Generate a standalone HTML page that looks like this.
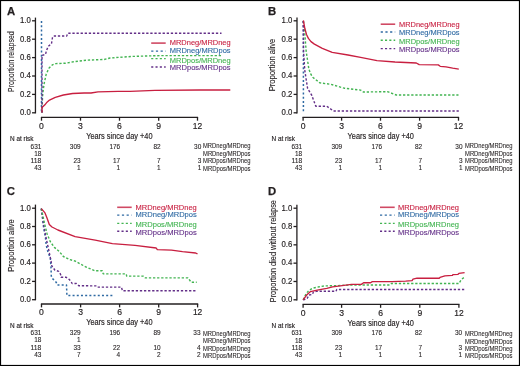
<!DOCTYPE html>
<html><head><meta charset="utf-8"><style>
html,body{margin:0;padding:0;background:#fff;width:520px;height:366px;overflow:hidden}
text{font-family:"Liberation Sans", sans-serif}
</style></head><body>
<div style="will-change:transform;width:520px;height:366px"><svg width="520" height="366" viewBox="0 0 520 366" style='display:block;font-family:"Liberation Sans", sans-serif'>
<rect x="0" y="0" width="520" height="366" fill="#fff"/>
<text x="6.90" y="14.60" font-size="11.3" fill="#231f20" font-weight="bold" stroke="#231f20" stroke-width="0.25" >A</text>
<line x1="35.45" y1="17.60" x2="35.45" y2="113.40" stroke="#231f20" stroke-width="1.3"/>
<line x1="32.05" y1="112.80" x2="35.45" y2="112.80" stroke="#231f20" stroke-width="1.3"/>
<text x="30.85" y="115.10" font-size="9.0" fill="#231f20" text-anchor="end" textLength="10.8" lengthAdjust="spacingAndGlyphs" stroke="#231f20" stroke-width="0.18" >0.0</text>
<line x1="32.05" y1="94.40" x2="35.45" y2="94.40" stroke="#231f20" stroke-width="1.3"/>
<text x="30.85" y="96.70" font-size="9.0" fill="#231f20" text-anchor="end" textLength="10.8" lengthAdjust="spacingAndGlyphs" stroke="#231f20" stroke-width="0.18" >0.2</text>
<line x1="32.05" y1="76.00" x2="35.45" y2="76.00" stroke="#231f20" stroke-width="1.3"/>
<text x="30.85" y="78.30" font-size="9.0" fill="#231f20" text-anchor="end" textLength="10.8" lengthAdjust="spacingAndGlyphs" stroke="#231f20" stroke-width="0.18" >0.4</text>
<line x1="32.05" y1="57.60" x2="35.45" y2="57.60" stroke="#231f20" stroke-width="1.3"/>
<text x="30.85" y="59.90" font-size="9.0" fill="#231f20" text-anchor="end" textLength="10.8" lengthAdjust="spacingAndGlyphs" stroke="#231f20" stroke-width="0.18" >0.6</text>
<line x1="32.05" y1="39.20" x2="35.45" y2="39.20" stroke="#231f20" stroke-width="1.3"/>
<text x="30.85" y="41.50" font-size="9.0" fill="#231f20" text-anchor="end" textLength="10.8" lengthAdjust="spacingAndGlyphs" stroke="#231f20" stroke-width="0.18" >0.8</text>
<line x1="32.05" y1="20.80" x2="35.45" y2="20.80" stroke="#231f20" stroke-width="1.3"/>
<text x="30.85" y="23.10" font-size="9.0" fill="#231f20" text-anchor="end" textLength="10.8" lengthAdjust="spacingAndGlyphs" stroke="#231f20" stroke-width="0.18" >1.0</text>
<line x1="40.90" y1="117.30" x2="198.10" y2="117.30" stroke="#231f20" stroke-width="1.3"/>
<line x1="41.50" y1="117.30" x2="41.50" y2="120.70" stroke="#231f20" stroke-width="1.3"/>
<text x="41.50" y="128.70" font-size="9.0" fill="#231f20" text-anchor="middle" textLength="4.8" lengthAdjust="spacingAndGlyphs" stroke="#231f20" stroke-width="0.18" >0</text>
<line x1="80.50" y1="117.30" x2="80.50" y2="120.70" stroke="#231f20" stroke-width="1.3"/>
<text x="80.50" y="128.70" font-size="9.0" fill="#231f20" text-anchor="middle" textLength="4.8" lengthAdjust="spacingAndGlyphs" stroke="#231f20" stroke-width="0.18" >3</text>
<line x1="119.50" y1="117.30" x2="119.50" y2="120.70" stroke="#231f20" stroke-width="1.3"/>
<text x="119.50" y="128.70" font-size="9.0" fill="#231f20" text-anchor="middle" textLength="4.8" lengthAdjust="spacingAndGlyphs" stroke="#231f20" stroke-width="0.18" >6</text>
<line x1="158.70" y1="117.30" x2="158.70" y2="120.70" stroke="#231f20" stroke-width="1.3"/>
<text x="158.70" y="128.70" font-size="9.0" fill="#231f20" text-anchor="middle" textLength="4.8" lengthAdjust="spacingAndGlyphs" stroke="#231f20" stroke-width="0.18" >9</text>
<line x1="197.50" y1="117.30" x2="197.50" y2="120.70" stroke="#231f20" stroke-width="1.3"/>
<text x="197.50" y="128.70" font-size="9.0" fill="#231f20" text-anchor="middle" textLength="9.4" lengthAdjust="spacingAndGlyphs" stroke="#231f20" stroke-width="0.18" >12</text>
<text x="86.20" y="138.60" font-size="9.1" fill="#231f20" textLength="66.3" lengthAdjust="spacingAndGlyphs" stroke="#231f20" stroke-width="0.18" >Years since day +40</text>
<text x="0" y="0" font-size="8.9" fill="#231f20" stroke="#231f20" stroke-width="0.12" textLength="60.50" lengthAdjust="spacingAndGlyphs" transform="translate(14.20,91.90) rotate(-90)">Proportion relapsed</text>
<text x="10.00" y="140.80" font-size="7.4" fill="#231f20" textLength="23.5" lengthAdjust="spacingAndGlyphs" stroke="#231f20" stroke-width="0.18" >N at risk</text>
<text x="41.40" y="148.50" font-size="6.6" fill="#231f20" text-anchor="end" textLength="10.8" lengthAdjust="spacingAndGlyphs" stroke="#231f20" stroke-width="0.1" >631</text>
<text x="80.60" y="148.50" font-size="6.6" fill="#231f20" text-anchor="end" textLength="10.8" lengthAdjust="spacingAndGlyphs" stroke="#231f20" stroke-width="0.1" >309</text>
<text x="120.20" y="148.50" font-size="6.6" fill="#231f20" text-anchor="end" textLength="10.8" lengthAdjust="spacingAndGlyphs" stroke="#231f20" stroke-width="0.1" >176</text>
<text x="160.60" y="148.50" font-size="6.6" fill="#231f20" text-anchor="end" textLength="7.2" lengthAdjust="spacingAndGlyphs" stroke="#231f20" stroke-width="0.1" >82</text>
<text x="201.30" y="148.50" font-size="6.6" fill="#231f20" text-anchor="end" textLength="7.2" lengthAdjust="spacingAndGlyphs" stroke="#231f20" stroke-width="0.1" >30</text>
<text x="203.00" y="148.20" font-size="6.5" fill="#231f20" textLength="47.5" lengthAdjust="spacingAndGlyphs" stroke="#231f20" stroke-width="0.08" >MRDneg/MRDneg</text>
<text x="41.40" y="155.70" font-size="6.6" fill="#231f20" text-anchor="end" textLength="7.2" lengthAdjust="spacingAndGlyphs" stroke="#231f20" stroke-width="0.1" >18</text>
<text x="203.00" y="155.60" font-size="6.5" fill="#231f20" textLength="47.5" lengthAdjust="spacingAndGlyphs" stroke="#231f20" stroke-width="0.08" >MRDneg/MRDpos</text>
<text x="41.40" y="163.10" font-size="6.6" fill="#231f20" text-anchor="end" textLength="10.8" lengthAdjust="spacingAndGlyphs" stroke="#231f20" stroke-width="0.1" >118</text>
<text x="80.60" y="163.10" font-size="6.6" fill="#231f20" text-anchor="end" textLength="7.2" lengthAdjust="spacingAndGlyphs" stroke="#231f20" stroke-width="0.1" >23</text>
<text x="120.20" y="163.10" font-size="6.6" fill="#231f20" text-anchor="end" textLength="7.2" lengthAdjust="spacingAndGlyphs" stroke="#231f20" stroke-width="0.1" >17</text>
<text x="160.60" y="163.10" font-size="6.6" fill="#231f20" text-anchor="end" textLength="3.6" lengthAdjust="spacingAndGlyphs" stroke="#231f20" stroke-width="0.1" >7</text>
<text x="201.30" y="163.10" font-size="6.6" fill="#231f20" text-anchor="end" textLength="3.6" lengthAdjust="spacingAndGlyphs" stroke="#231f20" stroke-width="0.1" >3</text>
<text x="203.00" y="163.10" font-size="6.5" fill="#231f20" textLength="47.5" lengthAdjust="spacingAndGlyphs" stroke="#231f20" stroke-width="0.08" >MRDpos/MRDneg</text>
<text x="41.40" y="170.30" font-size="6.6" fill="#231f20" text-anchor="end" textLength="7.2" lengthAdjust="spacingAndGlyphs" stroke="#231f20" stroke-width="0.1" >43</text>
<text x="80.60" y="170.30" font-size="6.6" fill="#231f20" text-anchor="end" textLength="3.6" lengthAdjust="spacingAndGlyphs" stroke="#231f20" stroke-width="0.1" >1</text>
<text x="120.20" y="170.30" font-size="6.6" fill="#231f20" text-anchor="end" textLength="3.6" lengthAdjust="spacingAndGlyphs" stroke="#231f20" stroke-width="0.1" >1</text>
<text x="160.60" y="170.30" font-size="6.6" fill="#231f20" text-anchor="end" textLength="3.6" lengthAdjust="spacingAndGlyphs" stroke="#231f20" stroke-width="0.1" >1</text>
<text x="201.30" y="170.30" font-size="6.6" fill="#231f20" text-anchor="end" textLength="3.6" lengthAdjust="spacingAndGlyphs" stroke="#231f20" stroke-width="0.1" >1</text>
<text x="203.00" y="170.60" font-size="6.5" fill="#231f20" textLength="47.5" lengthAdjust="spacingAndGlyphs" stroke="#231f20" stroke-width="0.08" >MRDpos/MRDpos</text>
<line x1="151.20" y1="43.10" x2="165.70" y2="43.10" stroke="#d04a64" stroke-width="1.6"/>
<text x="169.80" y="45.40" font-size="7.8" fill="#c81f40" textLength="60.8" lengthAdjust="spacingAndGlyphs" stroke="#c81f40" stroke-width="0.12" >MRDneg/MRDneg</text>
<line x1="151.20" y1="51.10" x2="165.70" y2="51.10" stroke="#2f6aa3" stroke-width="1.4" stroke-dasharray="2.2 2.5"/>
<text x="169.80" y="53.40" font-size="7.8" fill="#2f6aa3" textLength="60.8" lengthAdjust="spacingAndGlyphs" stroke="#2f6aa3" stroke-width="0.12" >MRDneg/MRDpos</text>
<line x1="151.20" y1="58.60" x2="165.70" y2="58.60" stroke="#42b451" stroke-width="1.4" stroke-dasharray="2.1 2.2"/>
<text x="169.80" y="62.70" font-size="7.8" fill="#42b451" textLength="60.8" lengthAdjust="spacingAndGlyphs" stroke="#42b451" stroke-width="0.12" >MRDpos/MRDneg</text>
<line x1="151.20" y1="67.00" x2="165.70" y2="67.00" stroke="#632f88" stroke-width="1.4" stroke-dasharray="2.1 2.2"/>
<text x="169.80" y="70.40" font-size="7.8" fill="#632f88" textLength="60.8" lengthAdjust="spacingAndGlyphs" stroke="#632f88" stroke-width="0.12" >MRDpos/MRDpos</text>
<polyline points="42.00,112.70 42.10,105.60 42.80,93.30 44.10,83.80 46.20,74.20 48.90,68.30 52.30,64.90 55.80,63.60 65.30,63.20 73.50,61.80 86.50,60.20 104.00,59.50 110.00,58.00 132.50,56.40 160.00,55.60 221.00,55.60" fill="none" stroke="#42b451" stroke-width="1.4" stroke-linejoin="round" stroke-dasharray="2.3 1.8"/>
<polyline points="41.50,21.10 41.50,113.00" fill="none" stroke="#2f6aa3" stroke-width="1.5" stroke-linejoin="round" stroke-dasharray="2.0 2.2"/>
<polyline points="42.00,112.70 42.00,55.40 45.50,54.50 46.50,50.50 48.20,46.50 51.50,43.50 52.50,37.50 53.50,36.00 66.70,36.00 67.70,33.30 221.50,33.30" fill="none" stroke="#632f88" stroke-width="1.4" stroke-linejoin="round" stroke-dasharray="2.3 1.8"/>
<polyline points="42.00,112.50 42.00,107.60 44.90,104.80 47.00,102.20 49.50,100.10 55.30,97.30 63.40,95.00 72.60,93.50 84.10,93.00 91.00,93.00 98.00,91.80 118.20,91.30 130.00,91.30 155.00,90.40 200.00,90.00 230.30,90.00" fill="none" stroke="#c81f40" stroke-width="1.35" stroke-linejoin="round"/>
<text x="268.10" y="15.00" font-size="11.3" fill="#231f20" font-weight="bold" stroke="#231f20" stroke-width="0.25" >B</text>
<line x1="297.00" y1="17.60" x2="297.00" y2="113.40" stroke="#231f20" stroke-width="1.3"/>
<line x1="293.60" y1="112.80" x2="297.00" y2="112.80" stroke="#231f20" stroke-width="1.3"/>
<text x="292.40" y="115.10" font-size="9.0" fill="#231f20" text-anchor="end" textLength="10.8" lengthAdjust="spacingAndGlyphs" stroke="#231f20" stroke-width="0.18" >0.0</text>
<line x1="293.60" y1="94.40" x2="297.00" y2="94.40" stroke="#231f20" stroke-width="1.3"/>
<text x="292.40" y="96.70" font-size="9.0" fill="#231f20" text-anchor="end" textLength="10.8" lengthAdjust="spacingAndGlyphs" stroke="#231f20" stroke-width="0.18" >0.2</text>
<line x1="293.60" y1="76.00" x2="297.00" y2="76.00" stroke="#231f20" stroke-width="1.3"/>
<text x="292.40" y="78.30" font-size="9.0" fill="#231f20" text-anchor="end" textLength="10.8" lengthAdjust="spacingAndGlyphs" stroke="#231f20" stroke-width="0.18" >0.4</text>
<line x1="293.60" y1="57.60" x2="297.00" y2="57.60" stroke="#231f20" stroke-width="1.3"/>
<text x="292.40" y="59.90" font-size="9.0" fill="#231f20" text-anchor="end" textLength="10.8" lengthAdjust="spacingAndGlyphs" stroke="#231f20" stroke-width="0.18" >0.6</text>
<line x1="293.60" y1="39.20" x2="297.00" y2="39.20" stroke="#231f20" stroke-width="1.3"/>
<text x="292.40" y="41.50" font-size="9.0" fill="#231f20" text-anchor="end" textLength="10.8" lengthAdjust="spacingAndGlyphs" stroke="#231f20" stroke-width="0.18" >0.8</text>
<line x1="293.60" y1="20.80" x2="297.00" y2="20.80" stroke="#231f20" stroke-width="1.3"/>
<text x="292.40" y="23.10" font-size="9.0" fill="#231f20" text-anchor="end" textLength="10.8" lengthAdjust="spacingAndGlyphs" stroke="#231f20" stroke-width="0.18" >1.0</text>
<line x1="302.50" y1="117.30" x2="459.10" y2="117.30" stroke="#231f20" stroke-width="1.3"/>
<line x1="303.10" y1="117.30" x2="303.10" y2="120.70" stroke="#231f20" stroke-width="1.3"/>
<text x="303.10" y="128.70" font-size="9.0" fill="#231f20" text-anchor="middle" textLength="4.8" lengthAdjust="spacingAndGlyphs" stroke="#231f20" stroke-width="0.18" >0</text>
<line x1="341.60" y1="117.30" x2="341.60" y2="120.70" stroke="#231f20" stroke-width="1.3"/>
<text x="341.60" y="128.70" font-size="9.0" fill="#231f20" text-anchor="middle" textLength="4.8" lengthAdjust="spacingAndGlyphs" stroke="#231f20" stroke-width="0.18" >3</text>
<line x1="380.50" y1="117.30" x2="380.50" y2="120.70" stroke="#231f20" stroke-width="1.3"/>
<text x="380.50" y="128.70" font-size="9.0" fill="#231f20" text-anchor="middle" textLength="4.8" lengthAdjust="spacingAndGlyphs" stroke="#231f20" stroke-width="0.18" >6</text>
<line x1="419.60" y1="117.30" x2="419.60" y2="120.70" stroke="#231f20" stroke-width="1.3"/>
<text x="419.60" y="128.70" font-size="9.0" fill="#231f20" text-anchor="middle" textLength="4.8" lengthAdjust="spacingAndGlyphs" stroke="#231f20" stroke-width="0.18" >9</text>
<line x1="458.50" y1="117.30" x2="458.50" y2="120.70" stroke="#231f20" stroke-width="1.3"/>
<text x="458.50" y="128.70" font-size="9.0" fill="#231f20" text-anchor="middle" textLength="9.4" lengthAdjust="spacingAndGlyphs" stroke="#231f20" stroke-width="0.18" >12</text>
<text x="347.60" y="138.60" font-size="9.1" fill="#231f20" textLength="66.3" lengthAdjust="spacingAndGlyphs" stroke="#231f20" stroke-width="0.18" >Years since day +40</text>
<text x="0" y="0" font-size="8.9" fill="#231f20" stroke="#231f20" stroke-width="0.12" textLength="52.40" lengthAdjust="spacingAndGlyphs" transform="translate(275.10,91.20) rotate(-90)">Proportion alive</text>
<text x="271.50" y="140.80" font-size="7.4" fill="#231f20" textLength="23.5" lengthAdjust="spacingAndGlyphs" stroke="#231f20" stroke-width="0.18" >N at risk</text>
<text x="302.20" y="148.50" font-size="6.6" fill="#231f20" text-anchor="end" textLength="10.8" lengthAdjust="spacingAndGlyphs" stroke="#231f20" stroke-width="0.1" >631</text>
<text x="342.20" y="148.50" font-size="6.6" fill="#231f20" text-anchor="end" textLength="10.8" lengthAdjust="spacingAndGlyphs" stroke="#231f20" stroke-width="0.1" >309</text>
<text x="382.20" y="148.50" font-size="6.6" fill="#231f20" text-anchor="end" textLength="10.8" lengthAdjust="spacingAndGlyphs" stroke="#231f20" stroke-width="0.1" >176</text>
<text x="422.20" y="148.50" font-size="6.6" fill="#231f20" text-anchor="end" textLength="7.2" lengthAdjust="spacingAndGlyphs" stroke="#231f20" stroke-width="0.1" >82</text>
<text x="462.50" y="148.50" font-size="6.6" fill="#231f20" text-anchor="end" textLength="7.2" lengthAdjust="spacingAndGlyphs" stroke="#231f20" stroke-width="0.1" >30</text>
<text x="465.00" y="148.20" font-size="6.5" fill="#231f20" textLength="47.5" lengthAdjust="spacingAndGlyphs" stroke="#231f20" stroke-width="0.08" >MRDneg/MRDneg</text>
<text x="302.20" y="155.70" font-size="6.6" fill="#231f20" text-anchor="end" textLength="7.2" lengthAdjust="spacingAndGlyphs" stroke="#231f20" stroke-width="0.1" >18</text>
<text x="465.00" y="155.60" font-size="6.5" fill="#231f20" textLength="47.5" lengthAdjust="spacingAndGlyphs" stroke="#231f20" stroke-width="0.08" >MRDneg/MRDpos</text>
<text x="302.20" y="163.10" font-size="6.6" fill="#231f20" text-anchor="end" textLength="10.8" lengthAdjust="spacingAndGlyphs" stroke="#231f20" stroke-width="0.1" >118</text>
<text x="342.20" y="163.10" font-size="6.6" fill="#231f20" text-anchor="end" textLength="7.2" lengthAdjust="spacingAndGlyphs" stroke="#231f20" stroke-width="0.1" >23</text>
<text x="382.20" y="163.10" font-size="6.6" fill="#231f20" text-anchor="end" textLength="7.2" lengthAdjust="spacingAndGlyphs" stroke="#231f20" stroke-width="0.1" >17</text>
<text x="422.20" y="163.10" font-size="6.6" fill="#231f20" text-anchor="end" textLength="3.6" lengthAdjust="spacingAndGlyphs" stroke="#231f20" stroke-width="0.1" >7</text>
<text x="462.50" y="163.10" font-size="6.6" fill="#231f20" text-anchor="end" textLength="3.6" lengthAdjust="spacingAndGlyphs" stroke="#231f20" stroke-width="0.1" >3</text>
<text x="465.00" y="163.10" font-size="6.5" fill="#231f20" textLength="47.5" lengthAdjust="spacingAndGlyphs" stroke="#231f20" stroke-width="0.08" >MRDpos/MRDneg</text>
<text x="302.20" y="170.30" font-size="6.6" fill="#231f20" text-anchor="end" textLength="7.2" lengthAdjust="spacingAndGlyphs" stroke="#231f20" stroke-width="0.1" >43</text>
<text x="342.20" y="170.30" font-size="6.6" fill="#231f20" text-anchor="end" textLength="3.6" lengthAdjust="spacingAndGlyphs" stroke="#231f20" stroke-width="0.1" >1</text>
<text x="382.20" y="170.30" font-size="6.6" fill="#231f20" text-anchor="end" textLength="3.6" lengthAdjust="spacingAndGlyphs" stroke="#231f20" stroke-width="0.1" >1</text>
<text x="422.20" y="170.30" font-size="6.6" fill="#231f20" text-anchor="end" textLength="3.6" lengthAdjust="spacingAndGlyphs" stroke="#231f20" stroke-width="0.1" >1</text>
<text x="462.50" y="170.30" font-size="6.6" fill="#231f20" text-anchor="end" textLength="3.6" lengthAdjust="spacingAndGlyphs" stroke="#231f20" stroke-width="0.1" >1</text>
<text x="465.00" y="170.60" font-size="6.5" fill="#231f20" textLength="47.5" lengthAdjust="spacingAndGlyphs" stroke="#231f20" stroke-width="0.08" >MRDpos/MRDpos</text>
<line x1="380.70" y1="24.20" x2="395.20" y2="24.20" stroke="#d04a64" stroke-width="1.6"/>
<text x="399.10" y="26.60" font-size="7.8" fill="#c81f40" textLength="60.5" lengthAdjust="spacingAndGlyphs" stroke="#c81f40" stroke-width="0.12" >MRDneg/MRDneg</text>
<line x1="380.70" y1="32.00" x2="395.20" y2="32.00" stroke="#2f6aa3" stroke-width="1.4" stroke-dasharray="2.2 2.5"/>
<text x="399.10" y="34.80" font-size="7.8" fill="#2f6aa3" textLength="60.5" lengthAdjust="spacingAndGlyphs" stroke="#2f6aa3" stroke-width="0.12" >MRDneg/MRDpos</text>
<line x1="380.70" y1="40.30" x2="395.20" y2="40.30" stroke="#42b451" stroke-width="1.4" stroke-dasharray="2.1 2.2"/>
<text x="399.10" y="44.00" font-size="7.8" fill="#42b451" textLength="60.5" lengthAdjust="spacingAndGlyphs" stroke="#42b451" stroke-width="0.12" >MRDpos/MRDneg</text>
<line x1="380.70" y1="48.60" x2="395.20" y2="48.60" stroke="#632f88" stroke-width="1.4" stroke-dasharray="2.1 2.2"/>
<text x="399.10" y="52.00" font-size="7.8" fill="#632f88" textLength="60.5" lengthAdjust="spacingAndGlyphs" stroke="#632f88" stroke-width="0.12" >MRDpos/MRDpos</text>
<polyline points="303.40,21.10 303.40,113.00" fill="none" stroke="#2f6aa3" stroke-width="1.5" stroke-linejoin="round" stroke-dasharray="2.0 2.2"/>
<polyline points="303.30,21.00 304.50,30.00 306.20,51.50 308.90,69.30 311.00,74.50 313.00,77.50 319.90,82.90 330.80,84.30 344.20,88.20 360.60,90.10 363.30,92.00 387.60,91.70 396.30,95.00 458.50,95.00" fill="none" stroke="#42b451" stroke-width="1.4" stroke-linejoin="round" stroke-dasharray="2.3 1.8"/>
<polyline points="303.20,21.00 303.50,51.50 304.80,70.60 307.60,88.40 311.70,95.20 315.80,106.20 326.70,106.20 333.50,111.00 458.80,111.00" fill="none" stroke="#632f88" stroke-width="1.4" stroke-linejoin="round" stroke-dasharray="2.3 1.8"/>
<polyline points="303.40,20.30 304.80,28.30 306.50,34.50 308.40,38.40 311.00,41.60 314.40,44.10 322.30,48.30 332.20,52.30 348.00,55.00 360.60,57.30 377.00,60.60 395.00,62.00 416.30,63.00 419.20,64.70 438.30,64.90 440.20,66.30 446.00,66.80 452.70,68.20 458.80,69.10" fill="none" stroke="#c81f40" stroke-width="1.35" stroke-linejoin="round"/>
<text x="6.80" y="195.40" font-size="11.3" fill="#231f20" font-weight="bold" stroke="#231f20" stroke-width="0.25" >C</text>
<line x1="35.45" y1="204.60" x2="35.45" y2="300.30" stroke="#231f20" stroke-width="1.3"/>
<line x1="32.05" y1="299.70" x2="35.45" y2="299.70" stroke="#231f20" stroke-width="1.3"/>
<text x="30.85" y="302.00" font-size="9.0" fill="#231f20" text-anchor="end" textLength="10.8" lengthAdjust="spacingAndGlyphs" stroke="#231f20" stroke-width="0.18" >0.0</text>
<line x1="32.05" y1="281.40" x2="35.45" y2="281.40" stroke="#231f20" stroke-width="1.3"/>
<text x="30.85" y="283.70" font-size="9.0" fill="#231f20" text-anchor="end" textLength="10.8" lengthAdjust="spacingAndGlyphs" stroke="#231f20" stroke-width="0.18" >0.2</text>
<line x1="32.05" y1="263.10" x2="35.45" y2="263.10" stroke="#231f20" stroke-width="1.3"/>
<text x="30.85" y="265.40" font-size="9.0" fill="#231f20" text-anchor="end" textLength="10.8" lengthAdjust="spacingAndGlyphs" stroke="#231f20" stroke-width="0.18" >0.4</text>
<line x1="32.05" y1="244.80" x2="35.45" y2="244.80" stroke="#231f20" stroke-width="1.3"/>
<text x="30.85" y="247.10" font-size="9.0" fill="#231f20" text-anchor="end" textLength="10.8" lengthAdjust="spacingAndGlyphs" stroke="#231f20" stroke-width="0.18" >0.6</text>
<line x1="32.05" y1="226.50" x2="35.45" y2="226.50" stroke="#231f20" stroke-width="1.3"/>
<text x="30.85" y="228.80" font-size="9.0" fill="#231f20" text-anchor="end" textLength="10.8" lengthAdjust="spacingAndGlyphs" stroke="#231f20" stroke-width="0.18" >0.8</text>
<line x1="32.05" y1="208.20" x2="35.45" y2="208.20" stroke="#231f20" stroke-width="1.3"/>
<text x="30.85" y="210.50" font-size="9.0" fill="#231f20" text-anchor="end" textLength="10.8" lengthAdjust="spacingAndGlyphs" stroke="#231f20" stroke-width="0.18" >1.0</text>
<line x1="40.90" y1="304.00" x2="198.20" y2="304.00" stroke="#231f20" stroke-width="1.3"/>
<line x1="41.50" y1="304.00" x2="41.50" y2="307.40" stroke="#231f20" stroke-width="1.3"/>
<text x="41.50" y="315.40" font-size="9.0" fill="#231f20" text-anchor="middle" textLength="4.8" lengthAdjust="spacingAndGlyphs" stroke="#231f20" stroke-width="0.18" >0</text>
<line x1="80.60" y1="304.00" x2="80.60" y2="307.40" stroke="#231f20" stroke-width="1.3"/>
<text x="80.60" y="315.40" font-size="9.0" fill="#231f20" text-anchor="middle" textLength="4.8" lengthAdjust="spacingAndGlyphs" stroke="#231f20" stroke-width="0.18" >3</text>
<line x1="119.60" y1="304.00" x2="119.60" y2="307.40" stroke="#231f20" stroke-width="1.3"/>
<text x="119.60" y="315.40" font-size="9.0" fill="#231f20" text-anchor="middle" textLength="4.8" lengthAdjust="spacingAndGlyphs" stroke="#231f20" stroke-width="0.18" >6</text>
<line x1="158.70" y1="304.00" x2="158.70" y2="307.40" stroke="#231f20" stroke-width="1.3"/>
<text x="158.70" y="315.40" font-size="9.0" fill="#231f20" text-anchor="middle" textLength="4.8" lengthAdjust="spacingAndGlyphs" stroke="#231f20" stroke-width="0.18" >9</text>
<line x1="197.60" y1="304.00" x2="197.60" y2="307.40" stroke="#231f20" stroke-width="1.3"/>
<text x="197.60" y="315.40" font-size="9.0" fill="#231f20" text-anchor="middle" textLength="9.4" lengthAdjust="spacingAndGlyphs" stroke="#231f20" stroke-width="0.18" >12</text>
<text x="86.20" y="325.40" font-size="9.1" fill="#231f20" textLength="66.3" lengthAdjust="spacingAndGlyphs" stroke="#231f20" stroke-width="0.18" >Years since day +40</text>
<text x="0" y="0" font-size="8.9" fill="#231f20" stroke="#231f20" stroke-width="0.12" textLength="52.30" lengthAdjust="spacingAndGlyphs" transform="translate(13.90,271.70) rotate(-90)">Proportion alive</text>
<text x="10.00" y="327.90" font-size="7.4" fill="#231f20" textLength="23.5" lengthAdjust="spacingAndGlyphs" stroke="#231f20" stroke-width="0.18" >N at risk</text>
<text x="41.40" y="334.80" font-size="6.6" fill="#231f20" text-anchor="end" textLength="10.8" lengthAdjust="spacingAndGlyphs" stroke="#231f20" stroke-width="0.1" >631</text>
<text x="80.60" y="334.80" font-size="6.6" fill="#231f20" text-anchor="end" textLength="10.8" lengthAdjust="spacingAndGlyphs" stroke="#231f20" stroke-width="0.1" >329</text>
<text x="120.20" y="334.80" font-size="6.6" fill="#231f20" text-anchor="end" textLength="10.8" lengthAdjust="spacingAndGlyphs" stroke="#231f20" stroke-width="0.1" >196</text>
<text x="160.60" y="334.80" font-size="6.6" fill="#231f20" text-anchor="end" textLength="7.2" lengthAdjust="spacingAndGlyphs" stroke="#231f20" stroke-width="0.1" >89</text>
<text x="200.50" y="334.80" font-size="6.6" fill="#231f20" text-anchor="end" textLength="7.2" lengthAdjust="spacingAndGlyphs" stroke="#231f20" stroke-width="0.1" >33</text>
<text x="203.00" y="335.70" font-size="6.5" fill="#231f20" textLength="47.5" lengthAdjust="spacingAndGlyphs" stroke="#231f20" stroke-width="0.08" >MRDneg/MRDneg</text>
<text x="41.40" y="342.30" font-size="6.6" fill="#231f20" text-anchor="end" textLength="7.2" lengthAdjust="spacingAndGlyphs" stroke="#231f20" stroke-width="0.1" >18</text>
<text x="80.60" y="342.30" font-size="6.6" fill="#231f20" text-anchor="end" textLength="3.6" lengthAdjust="spacingAndGlyphs" stroke="#231f20" stroke-width="0.1" >1</text>
<text x="203.00" y="343.20" font-size="6.5" fill="#231f20" textLength="47.5" lengthAdjust="spacingAndGlyphs" stroke="#231f20" stroke-width="0.08" >MRDneg/MRDpos</text>
<text x="41.40" y="349.60" font-size="6.6" fill="#231f20" text-anchor="end" textLength="10.8" lengthAdjust="spacingAndGlyphs" stroke="#231f20" stroke-width="0.1" >118</text>
<text x="80.60" y="349.60" font-size="6.6" fill="#231f20" text-anchor="end" textLength="7.2" lengthAdjust="spacingAndGlyphs" stroke="#231f20" stroke-width="0.1" >33</text>
<text x="120.20" y="349.60" font-size="6.6" fill="#231f20" text-anchor="end" textLength="7.2" lengthAdjust="spacingAndGlyphs" stroke="#231f20" stroke-width="0.1" >22</text>
<text x="160.60" y="349.60" font-size="6.6" fill="#231f20" text-anchor="end" textLength="7.2" lengthAdjust="spacingAndGlyphs" stroke="#231f20" stroke-width="0.1" >10</text>
<text x="200.50" y="349.60" font-size="6.6" fill="#231f20" text-anchor="end" textLength="3.6" lengthAdjust="spacingAndGlyphs" stroke="#231f20" stroke-width="0.1" >4</text>
<text x="203.00" y="351.10" font-size="6.5" fill="#231f20" textLength="47.5" lengthAdjust="spacingAndGlyphs" stroke="#231f20" stroke-width="0.08" >MRDpos/MRDneg</text>
<text x="41.40" y="356.70" font-size="6.6" fill="#231f20" text-anchor="end" textLength="7.2" lengthAdjust="spacingAndGlyphs" stroke="#231f20" stroke-width="0.1" >43</text>
<text x="80.60" y="356.70" font-size="6.6" fill="#231f20" text-anchor="end" textLength="3.6" lengthAdjust="spacingAndGlyphs" stroke="#231f20" stroke-width="0.1" >7</text>
<text x="120.20" y="356.70" font-size="6.6" fill="#231f20" text-anchor="end" textLength="3.6" lengthAdjust="spacingAndGlyphs" stroke="#231f20" stroke-width="0.1" >4</text>
<text x="160.60" y="356.70" font-size="6.6" fill="#231f20" text-anchor="end" textLength="3.6" lengthAdjust="spacingAndGlyphs" stroke="#231f20" stroke-width="0.1" >2</text>
<text x="200.50" y="356.70" font-size="6.6" fill="#231f20" text-anchor="end" textLength="3.6" lengthAdjust="spacingAndGlyphs" stroke="#231f20" stroke-width="0.1" >2</text>
<text x="203.00" y="358.20" font-size="6.5" fill="#231f20" textLength="47.5" lengthAdjust="spacingAndGlyphs" stroke="#231f20" stroke-width="0.08" >MRDpos/MRDpos</text>
<line x1="117.20" y1="207.30" x2="131.70" y2="207.30" stroke="#d04a64" stroke-width="1.6"/>
<text x="135.50" y="209.70" font-size="7.8" fill="#c81f40" textLength="61.3" lengthAdjust="spacingAndGlyphs" stroke="#c81f40" stroke-width="0.12" >MRDneg/MRDneg</text>
<line x1="117.20" y1="215.10" x2="131.70" y2="215.10" stroke="#2f6aa3" stroke-width="1.4" stroke-dasharray="2.2 2.5"/>
<text x="135.50" y="217.40" font-size="7.8" fill="#2f6aa3" textLength="61.3" lengthAdjust="spacingAndGlyphs" stroke="#2f6aa3" stroke-width="0.12" >MRDneg/MRDpos</text>
<line x1="117.20" y1="223.40" x2="131.70" y2="223.40" stroke="#42b451" stroke-width="1.4" stroke-dasharray="2.1 2.2"/>
<text x="135.50" y="226.70" font-size="7.8" fill="#42b451" textLength="61.3" lengthAdjust="spacingAndGlyphs" stroke="#42b451" stroke-width="0.12" >MRDpos/MRDneg</text>
<line x1="117.20" y1="231.20" x2="131.70" y2="231.20" stroke="#632f88" stroke-width="1.4" stroke-dasharray="2.1 2.2"/>
<text x="135.50" y="234.50" font-size="7.8" fill="#632f88" textLength="61.3" lengthAdjust="spacingAndGlyphs" stroke="#632f88" stroke-width="0.12" >MRDpos/MRDpos</text>
<polyline points="41.30,208.60 42.10,213.80 43.70,228.60 45.40,236.80 46.20,245.00 47.80,251.50 50.30,258.10 51.00,267.00 51.30,276.00 52.20,278.50 54.30,280.10 56.30,282.50 57.20,285.00 66.50,285.00 66.90,295.50 112.40,295.50" fill="none" stroke="#2f6aa3" stroke-width="1.5" stroke-linejoin="round" stroke-dasharray="2.0 2.2"/>
<polyline points="41.30,208.60 42.90,220.40 44.60,230.20 46.20,238.40 48.70,249.90 51.10,261.40 51.70,265.70 54.80,270.00 58.70,271.40 60.60,274.30 61.00,277.20 65.90,277.20 68.75,279.10 70.70,281.00 72.10,283.50 76.40,283.50 78.80,285.70 96.50,285.90 97.50,287.10 121.50,287.10 122.40,290.80 196.70,290.80" fill="none" stroke="#632f88" stroke-width="1.4" stroke-linejoin="round" stroke-dasharray="2.3 1.8"/>
<polyline points="41.30,208.60 42.10,212.20 44.60,223.70 47.00,233.50 50.30,241.70 54.40,247.40 59.30,251.50 63.40,256.50 70.00,259.70 75.40,261.20 85.90,267.00 95.00,270.80 102.20,270.80 103.20,273.90 126.20,273.90 126.70,276.10 143.10,276.10 145.30,277.90 188.00,277.90 191.20,282.30 196.70,282.30" fill="none" stroke="#42b451" stroke-width="1.4" stroke-linejoin="round" stroke-dasharray="2.3 1.8"/>
<polyline points="41.30,208.60 45.00,212.90 47.00,218.00 49.30,224.40 52.00,227.00 57.90,230.00 75.10,236.70 95.20,240.10 112.40,243.60 135.00,245.30 156.20,248.00 157.30,249.70 171.50,250.10 182.50,251.70 195.60,253.00 197.50,253.90" fill="none" stroke="#c81f40" stroke-width="1.35" stroke-linejoin="round"/>
<text x="268.10" y="195.10" font-size="11.3" fill="#231f20" font-weight="bold" stroke="#231f20" stroke-width="0.25" >D</text>
<line x1="296.90" y1="204.80" x2="296.90" y2="300.40" stroke="#231f20" stroke-width="1.3"/>
<line x1="293.50" y1="299.80" x2="296.90" y2="299.80" stroke="#231f20" stroke-width="1.3"/>
<text x="292.30" y="302.10" font-size="9.0" fill="#231f20" text-anchor="end" textLength="10.8" lengthAdjust="spacingAndGlyphs" stroke="#231f20" stroke-width="0.18" >0.0</text>
<line x1="293.50" y1="281.48" x2="296.90" y2="281.48" stroke="#231f20" stroke-width="1.3"/>
<text x="292.30" y="283.78" font-size="9.0" fill="#231f20" text-anchor="end" textLength="10.8" lengthAdjust="spacingAndGlyphs" stroke="#231f20" stroke-width="0.18" >0.2</text>
<line x1="293.50" y1="263.16" x2="296.90" y2="263.16" stroke="#231f20" stroke-width="1.3"/>
<text x="292.30" y="265.46" font-size="9.0" fill="#231f20" text-anchor="end" textLength="10.8" lengthAdjust="spacingAndGlyphs" stroke="#231f20" stroke-width="0.18" >0.4</text>
<line x1="293.50" y1="244.84" x2="296.90" y2="244.84" stroke="#231f20" stroke-width="1.3"/>
<text x="292.30" y="247.14" font-size="9.0" fill="#231f20" text-anchor="end" textLength="10.8" lengthAdjust="spacingAndGlyphs" stroke="#231f20" stroke-width="0.18" >0.6</text>
<line x1="293.50" y1="226.52" x2="296.90" y2="226.52" stroke="#231f20" stroke-width="1.3"/>
<text x="292.30" y="228.82" font-size="9.0" fill="#231f20" text-anchor="end" textLength="10.8" lengthAdjust="spacingAndGlyphs" stroke="#231f20" stroke-width="0.18" >0.8</text>
<line x1="293.50" y1="208.20" x2="296.90" y2="208.20" stroke="#231f20" stroke-width="1.3"/>
<text x="292.30" y="210.50" font-size="9.0" fill="#231f20" text-anchor="end" textLength="10.8" lengthAdjust="spacingAndGlyphs" stroke="#231f20" stroke-width="0.18" >1.0</text>
<line x1="302.50" y1="304.40" x2="459.50" y2="304.40" stroke="#231f20" stroke-width="1.3"/>
<line x1="303.10" y1="304.40" x2="303.10" y2="307.80" stroke="#231f20" stroke-width="1.3"/>
<text x="303.10" y="315.80" font-size="9.0" fill="#231f20" text-anchor="middle" textLength="4.8" lengthAdjust="spacingAndGlyphs" stroke="#231f20" stroke-width="0.18" >0</text>
<line x1="341.60" y1="304.40" x2="341.60" y2="307.80" stroke="#231f20" stroke-width="1.3"/>
<text x="341.60" y="315.80" font-size="9.0" fill="#231f20" text-anchor="middle" textLength="4.8" lengthAdjust="spacingAndGlyphs" stroke="#231f20" stroke-width="0.18" >3</text>
<line x1="380.60" y1="304.40" x2="380.60" y2="307.80" stroke="#231f20" stroke-width="1.3"/>
<text x="380.60" y="315.80" font-size="9.0" fill="#231f20" text-anchor="middle" textLength="4.8" lengthAdjust="spacingAndGlyphs" stroke="#231f20" stroke-width="0.18" >6</text>
<line x1="419.80" y1="304.40" x2="419.80" y2="307.80" stroke="#231f20" stroke-width="1.3"/>
<text x="419.80" y="315.80" font-size="9.0" fill="#231f20" text-anchor="middle" textLength="4.8" lengthAdjust="spacingAndGlyphs" stroke="#231f20" stroke-width="0.18" >9</text>
<line x1="458.90" y1="304.40" x2="458.90" y2="307.80" stroke="#231f20" stroke-width="1.3"/>
<text x="458.90" y="315.80" font-size="9.0" fill="#231f20" text-anchor="middle" textLength="9.4" lengthAdjust="spacingAndGlyphs" stroke="#231f20" stroke-width="0.18" >12</text>
<text x="347.60" y="325.60" font-size="9.1" fill="#231f20" textLength="66.3" lengthAdjust="spacingAndGlyphs" stroke="#231f20" stroke-width="0.18" >Years since day +40</text>
<text x="0" y="0" font-size="8.9" fill="#231f20" stroke="#231f20" stroke-width="0.12" textLength="102.30" lengthAdjust="spacingAndGlyphs" transform="translate(276.00,302.30) rotate(-90)">Proportion died without relapse</text>
<text x="271.50" y="327.90" font-size="7.4" fill="#231f20" textLength="23.5" lengthAdjust="spacingAndGlyphs" stroke="#231f20" stroke-width="0.18" >N at risk</text>
<text x="302.20" y="335.40" font-size="6.6" fill="#231f20" text-anchor="end" textLength="10.8" lengthAdjust="spacingAndGlyphs" stroke="#231f20" stroke-width="0.1" >631</text>
<text x="342.20" y="335.40" font-size="6.6" fill="#231f20" text-anchor="end" textLength="10.8" lengthAdjust="spacingAndGlyphs" stroke="#231f20" stroke-width="0.1" >309</text>
<text x="382.20" y="335.40" font-size="6.6" fill="#231f20" text-anchor="end" textLength="10.8" lengthAdjust="spacingAndGlyphs" stroke="#231f20" stroke-width="0.1" >176</text>
<text x="422.20" y="335.40" font-size="6.6" fill="#231f20" text-anchor="end" textLength="7.2" lengthAdjust="spacingAndGlyphs" stroke="#231f20" stroke-width="0.1" >82</text>
<text x="462.20" y="335.40" font-size="6.6" fill="#231f20" text-anchor="end" textLength="7.2" lengthAdjust="spacingAndGlyphs" stroke="#231f20" stroke-width="0.1" >30</text>
<text x="465.00" y="336.00" font-size="6.5" fill="#231f20" textLength="47.5" lengthAdjust="spacingAndGlyphs" stroke="#231f20" stroke-width="0.08" >MRDneg/MRDneg</text>
<text x="302.20" y="342.50" font-size="6.6" fill="#231f20" text-anchor="end" textLength="7.2" lengthAdjust="spacingAndGlyphs" stroke="#231f20" stroke-width="0.1" >18</text>
<text x="465.00" y="343.50" font-size="6.5" fill="#231f20" textLength="47.5" lengthAdjust="spacingAndGlyphs" stroke="#231f20" stroke-width="0.08" >MRDneg/MRDpos</text>
<text x="302.20" y="350.00" font-size="6.6" fill="#231f20" text-anchor="end" textLength="10.8" lengthAdjust="spacingAndGlyphs" stroke="#231f20" stroke-width="0.1" >118</text>
<text x="342.20" y="350.00" font-size="6.6" fill="#231f20" text-anchor="end" textLength="7.2" lengthAdjust="spacingAndGlyphs" stroke="#231f20" stroke-width="0.1" >23</text>
<text x="382.20" y="350.00" font-size="6.6" fill="#231f20" text-anchor="end" textLength="7.2" lengthAdjust="spacingAndGlyphs" stroke="#231f20" stroke-width="0.1" >17</text>
<text x="422.20" y="350.00" font-size="6.6" fill="#231f20" text-anchor="end" textLength="3.6" lengthAdjust="spacingAndGlyphs" stroke="#231f20" stroke-width="0.1" >7</text>
<text x="462.20" y="350.00" font-size="6.6" fill="#231f20" text-anchor="end" textLength="3.6" lengthAdjust="spacingAndGlyphs" stroke="#231f20" stroke-width="0.1" >3</text>
<text x="465.00" y="351.20" font-size="6.5" fill="#231f20" textLength="47.5" lengthAdjust="spacingAndGlyphs" stroke="#231f20" stroke-width="0.08" >MRDpos/MRDneg</text>
<text x="302.20" y="357.00" font-size="6.6" fill="#231f20" text-anchor="end" textLength="7.2" lengthAdjust="spacingAndGlyphs" stroke="#231f20" stroke-width="0.1" >43</text>
<text x="342.20" y="357.00" font-size="6.6" fill="#231f20" text-anchor="end" textLength="3.6" lengthAdjust="spacingAndGlyphs" stroke="#231f20" stroke-width="0.1" >1</text>
<text x="382.20" y="357.00" font-size="6.6" fill="#231f20" text-anchor="end" textLength="3.6" lengthAdjust="spacingAndGlyphs" stroke="#231f20" stroke-width="0.1" >1</text>
<text x="422.20" y="357.00" font-size="6.6" fill="#231f20" text-anchor="end" textLength="3.6" lengthAdjust="spacingAndGlyphs" stroke="#231f20" stroke-width="0.1" >1</text>
<text x="462.20" y="357.00" font-size="6.6" fill="#231f20" text-anchor="end" textLength="3.6" lengthAdjust="spacingAndGlyphs" stroke="#231f20" stroke-width="0.1" >1</text>
<text x="465.00" y="358.30" font-size="6.5" fill="#231f20" textLength="47.5" lengthAdjust="spacingAndGlyphs" stroke="#231f20" stroke-width="0.08" >MRDpos/MRDpos</text>
<line x1="380.00" y1="207.30" x2="394.70" y2="207.30" stroke="#d04a64" stroke-width="1.6"/>
<text x="398.00" y="209.70" font-size="7.8" fill="#c81f40" textLength="61" lengthAdjust="spacingAndGlyphs" stroke="#c81f40" stroke-width="0.12" >MRDneg/MRDneg</text>
<line x1="380.00" y1="215.10" x2="394.70" y2="215.10" stroke="#2f6aa3" stroke-width="1.4" stroke-dasharray="2.2 2.5"/>
<text x="398.00" y="217.40" font-size="7.8" fill="#2f6aa3" textLength="61" lengthAdjust="spacingAndGlyphs" stroke="#2f6aa3" stroke-width="0.12" >MRDneg/MRDpos</text>
<line x1="380.00" y1="223.40" x2="394.70" y2="223.40" stroke="#42b451" stroke-width="1.4" stroke-dasharray="2.1 2.2"/>
<text x="398.00" y="226.70" font-size="7.8" fill="#42b451" textLength="61" lengthAdjust="spacingAndGlyphs" stroke="#42b451" stroke-width="0.12" >MRDpos/MRDneg</text>
<line x1="380.00" y1="231.20" x2="394.70" y2="231.20" stroke="#632f88" stroke-width="1.4" stroke-dasharray="2.1 2.2"/>
<text x="398.00" y="234.50" font-size="7.8" fill="#632f88" textLength="61" lengthAdjust="spacingAndGlyphs" stroke="#632f88" stroke-width="0.12" >MRDpos/MRDpos</text>
<polyline points="303.10,299.80 304.50,299.50 307.10,298.40 308.50,296.00 309.00,295.00 312.40,294.50 313.40,292.10 316.30,291.30 336.00,291.30 336.80,289.50 465.40,289.50" fill="none" stroke="#632f88" stroke-width="1.4" stroke-linejoin="round" stroke-dasharray="2.3 1.8"/>
<polyline points="303.10,299.80 306.20,293.60 308.60,290.70 312.40,288.30 319.20,286.80 324.90,285.90 336.50,285.70 348.00,285.10 390.00,285.00 391.50,283.50 458.90,283.50 461.30,279.50 464.60,277.00" fill="none" stroke="#42b451" stroke-width="1.4" stroke-linejoin="round" stroke-dasharray="2.3 1.8"/>
<polyline points="303.10,299.80 306.70,295.00 310.50,291.60 317.20,290.20 326.80,288.30 332.60,286.80 351.50,284.40 361.30,284.40 363.60,282.70 370.60,282.70 372.30,281.60 392.00,281.60 405.60,281.20 412.10,280.60 413.00,279.20 417.00,278.20 439.20,278.20 440.00,277.40 444.90,275.90 452.30,275.40 453.10,274.60 458.00,274.30 458.90,273.40 464.60,272.60" fill="none" stroke="#c81f40" stroke-width="1.35" stroke-linejoin="round"/>
<rect x="0.55" y="0.55" width="518.9" height="364.9" fill="none" stroke="#000" stroke-width="1.1"/>
</svg></div>
</body></html>
